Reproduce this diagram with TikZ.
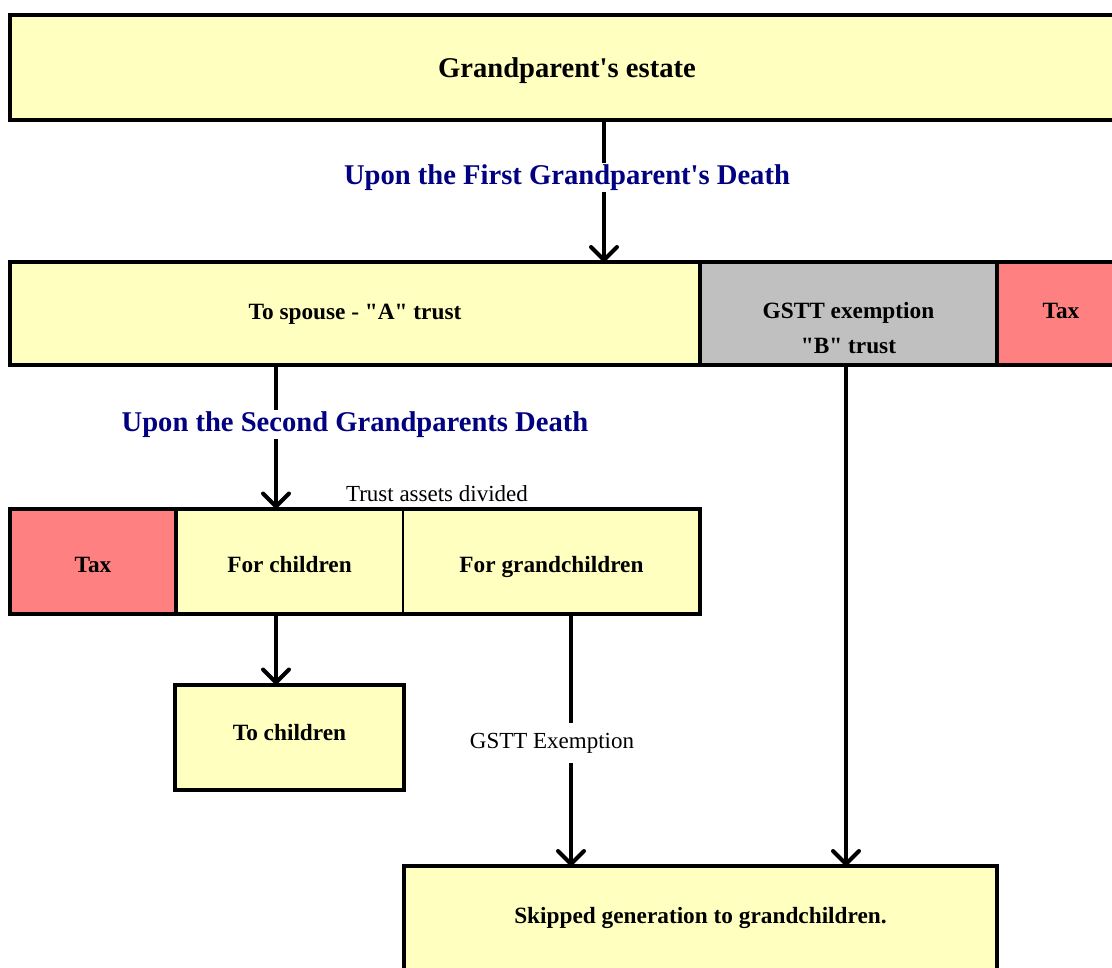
\documentclass[tikz,border=0pt]{standalone}
\usepackage{fontspec}
\setmainfont{Liberation Serif}
\usetikzlibrary{positioning}
\usetikzlibrary{arrows.meta}
\definecolor{boxyellow}{RGB}{255,255,192}
\definecolor{taxred}{RGB}{255,128,128}
\definecolor{trustgray}{RGB}{192,192,192}
\definecolor{eventblue}{RGB}{0,0,128}
\newcommand{\boxfont}{\fontsize{23.3}{34}\selectfont\bfseries}
\newcommand{\eventfont}{\fontsize{28.6}{34}\selectfont\bfseries}
\newcommand{\notefont}{\fontsize{23}{28}\selectfont}
\newcommand{\qq}[1]{\textquotedbl#1\textquotedbl}
\tikzset{
	share/.style={rectangle, draw, line width=4pt, fill=boxyellow, outer sep=0pt, inner sep=0pt, minimum height=105pt, font=\boxfont, text height=15.4pt, text depth=0pt},
	exempt/.style={share, fill=trustgray},
	tax/.style={share, fill=taxred},
	% fill only, outline drawn afterwards
	cell/.style={share, draw=none},
	event/.style={fill=white, inner xsep=0pt, inner ysep=2pt, text=eventblue, font=\eventfont},
	note/.style={fill=white, inner xsep=2pt, inner ysep=10pt, font=\notefont},
}

\begin{document}
\begin{tikzpicture}[x=1pt, y=-1pt]
	\useasboundingbox (0,0) rectangle (1112,968);
	\clip (0,0) rectangle (1112,968);
	
	\node (estate) [share, font=\eventfont, text height=20.9pt, minimum width=1114pt] at (567,67.5) {Grandparent\textquotesingle s estate};
	
	\node (spouse) [share, text depth=4pt, minimum width=690pt, minimum height=103pt] at (355,313.5) {To spouse - \qq{A} trust};
	\node (gstt) [exempt, text depth=6pt, right=0pt of spouse, minimum width=297pt, minimum height=103pt] {GSTT exemption};
	\node (btrust) [font=\boxfont, inner sep=0pt, text height=15.4pt, text depth=0pt] at ([yshift=-32pt]gstt.center) {\qq{B} trust};
	\node (tax1) [tax, text depth=6pt, right=0pt of gstt, minimum width=128pt, minimum height=103pt] {Tax};
	
	\node (tax2) [cell, fill=taxred, text height=22.8pt, minimum width=166pt] at (93,561) {Tax};
	\node (kids) [cell, text height=22.8pt, right=0pt of tax2, minimum width=227pt] {For children};
	\node (grand) [cell, text height=22.8pt, right=0pt of kids, minimum width=297pt] {For grandchildren};
	\draw[line width=4pt] (tax2.north west) rectangle (grand.south east);
	\draw[line width=4pt] (tax2.north east) -- (tax2.south east);
	\draw[line width=1.5pt] (kids.north east) -- (kids.south east);
	
	\node (children) [share, text depth=9.4pt, minimum width=229pt] at (289.5,737) {To children};
	\node (skip) [share, text depth=6pt, minimum width=593pt] at (700.5,918.5) {Skipped generation to grandchildren.};
	
	\begin{scope}[line width=4pt, black, ->, >={Straight Barb[length=13pt, width=26pt, round]}]
		
		\draw ([xshift=37pt]estate.south) -- ([xshift=37pt]estate.south |- spouse.north);
		\draw ([xshift=-79pt]spouse.south) -- ([xshift=-79pt]spouse.south |- kids.north);
		\draw ([xshift=-13.5pt]kids.south) -- ([xshift=-13.5pt]kids.south |- children.north);
		\draw ([xshift=19.5pt]grand.south) -- ([xshift=19.5pt]grand.south |- skip.north);
		\draw ([xshift=-2.5pt]gstt.south) -- ([xshift=-2.5pt]gstt.south |- skip.north);
		
	\end{scope}
	
	\node (firstdeath) [event] at (567,177.5) {Upon the First Grandparent\textquotesingle s Death};
	\node (seconddeath) [event] at (355,424.5) {Upon the Second Grandparents Death};
	\node (divided) [font=\notefont] at (437,494) {Trust assets divided};
	\node (gsttnote) [note] at (552,743) {GSTT Exemption};
	
\end{tikzpicture}
\end{document}
